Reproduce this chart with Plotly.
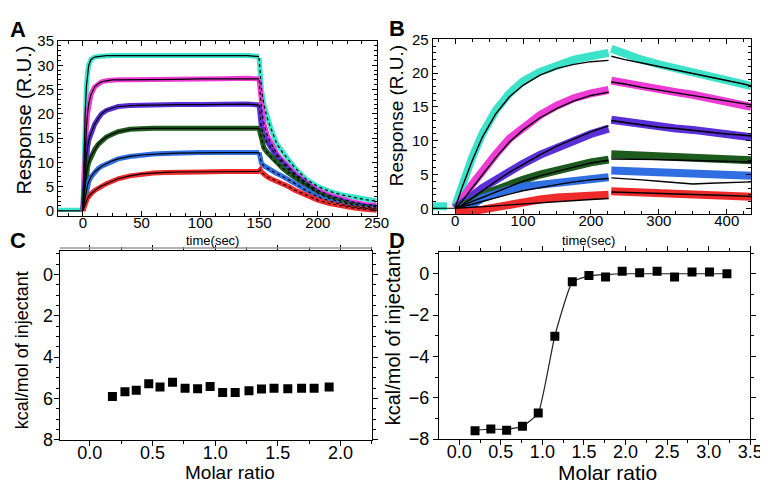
import plotly.graph_objects as go

W, H = 768, 487

# ---------------------------------------------------------------------------
# Panel A: SPR sensorgram (association 0-150 s, dissociation 150-250 s)
# ---------------------------------------------------------------------------
tA_on = [0, 1, 2, 3, 4, 5, 7, 10, 13, 16, 20, 25, 30, 40, 50, 60, 70, 80, 100, 120, 140, 150]
A_on = {
    "cyan":    [0, 12, 20, 25.5, 28.5, 30, 31.2, 31.7, 31.8, 31.9, 32, 32, 32, 32, 32.1, 32, 32, 32, 32, 32, 32, 31.8],
    "magenta": [0, 7, 12, 17, 20, 22, 24, 25.5, 26.2, 26.6, 26.8, 27, 27, 27, 27, 27.1, 27.1, 27.1, 27.2, 27.2, 27.3, 27.2],
    "purple":  [0, 4, 7.5, 11, 13, 14.5, 16, 17.8, 19, 20, 20.7, 21.2, 21.5, 21.7, 21.8, 21.8, 21.9, 21.9, 21.9, 22, 22, 21.8],
    "green":   [0, 3, 5.5, 7.5, 9, 10, 11.3, 12.6, 13.7, 14.5, 15.2, 15.8, 16.3, 16.8, 17, 17, 17, 17, 17.1, 17.1, 17.1, 17],
    "blue":    [0, 1.5, 3, 4.5, 5.3, 6, 7, 8, 8.7, 9.2, 9.7, 10.3, 10.7, 11.2, 11.5, 11.7, 11.8, 11.9, 12, 12, 12, 12],
    "red":     [0, 0.5, 1.3, 2, 2.6, 3, 3.5, 4.2, 4.7, 5.1, 5.6, 6.1, 6.6, 7.2, 7.6, 7.8, 7.9, 8, 8, 8.1, 8.1, 8.1],
}
tA_off = [150, 151, 152, 154, 157, 160, 165, 170, 175, 180, 190, 200, 210, 220, 230, 240, 250]
A_off = {
    "cyan":    [31.5, 28, 25, 22, 19, 17, 13.8, 12, 10.5, 9, 6.5, 5, 4, 3.3, 2.8, 2.3, 2.0],
    "magenta": [27, 24, 21, 18, 15.5, 14, 11.8, 10.3, 9, 7.8, 5.8, 4.2, 3.2, 2.4, 1.8, 1.3, 1.1],
    "purple":  [21.8, 19, 17, 15.5, 14, 13, 11.2, 9.8, 8.6, 7.4, 5.5, 3.8, 2.8, 2, 1.4, 1, 0.8],
    "green":   [17, 16, 14.5, 13, 12, 11.2, 9.8, 8.8, 7.8, 7, 5.2, 3.6, 2.5, 1.7, 1.1, 0.7, 0.5],
    "blue":    [12, 10.5, 9.8, 9.3, 8.8, 8.3, 7.7, 7.1, 6.4, 5.7, 4.2, 2.9, 2, 1.3, 0.8, 0.5, 0.3],
    "red":     [8.2, 8.5, 8, 7.5, 7, 6.6, 6.1, 5.5, 5, 4.3, 3.2, 2.2, 1.5, 1, 0.6, 0.3, 0.1],
}
tA_base = [-21, 0]
A_base = [0.2, 0.2]

# ---------------------------------------------------------------------------
# Panel B: SPR sensorgram (association 0-226 s, dissociation 230-436 s)
# ---------------------------------------------------------------------------
tB_on = [0, 10, 25, 40, 60, 80, 100, 125, 150, 175, 200, 226]
B_on = {
    "cyan":    [0.3, 3.5, 7.5, 11, 14.5, 17, 18.8, 20.2, 21.2, 22, 22.5, 23.0],
    "magenta": [0, 1.2, 3.5, 5.5, 8, 10.3, 12, 13.8, 15.2, 16.3, 17, 17.5],
    "purple":  [0, 0.6, 1.8, 3, 4.3, 5.5, 6.6, 7.9, 9, 10, 11, 11.8],
    "green":   [0, 0.3, 1, 2, 2.8, 3.5, 4.2, 5, 5.7, 6.3, 6.8, 7.2],
    "blue":    [0, 0.2, 0.5, 1.5, 2.2, 2.8, 3.2, 3.5, 3.8, 4.1, 4.4, 4.6],
    "red":     [-0.6, -0.6, -0.4, -0.2, 0.2, 0.6, 1, 1.3, 1.6, 1.8, 1.9, 2.0],
}
B_on_fit = {
    "cyan":    [0, 3, 7, 10.5, 14, 16.5, 18.2, 19.7, 20.7, 21.3, 21.7, 21.9],
    "magenta": [0, 1, 3, 5, 7.5, 9.8, 11.6, 13.4, 14.8, 15.9, 16.7, 17.2],
    "purple":  [0, 0.5, 1.5, 2.6, 4, 5.3, 6.5, 7.9, 9.2, 10.3, 11.3, 12.2],
    "green":   [0, 0.4, 1, 1.7, 2.5, 3.3, 4, 4.8, 5.5, 6.1, 6.7, 7.1],
    "blue":    [0, 0.2, 0.6, 1, 1.6, 2.1, 2.6, 3.1, 3.5, 3.9, 4.2, 4.4],
    "red":     [0, 0.05, 0.1, 0.2, 0.35, 0.5, 0.65, 0.85, 1.0, 1.15, 1.3, 1.45],
}
tB_off = [230, 250, 275, 300, 325, 350, 375, 400, 425, 436]
B_off = {
    "cyan":    [23.6, 22.8, 22, 21.3, 20.7, 20.2, 19.6, 19, 18.4, 18.1],
    "magenta": [18.9, 18.5, 18, 17.6, 17.2, 16.8, 16.3, 15.8, 15.3, 15.0],
    "purple":  [13.1, 12.8, 12.4, 12.1, 11.8, 11.6, 11.3, 11, 10.6, 10.5],
    "green":   [8, 7.9, 7.8, 7.7, 7.6, 7.5, 7.4, 7.3, 7.2, 7.1],
    "blue":    [5.6, 5.5, 5.4, 5.3, 5.3, 5.2, 5.1, 5.0, 4.9, 4.8],
    "red":     [2.5, 2.4, 2.3, 2.2, 2.2, 2.1, 2.0, 1.9, 1.8, 1.7],
}
B_off_fit = {
    "cyan":    [22.5, 22, 21.5, 21, 20.5, 20, 19.4, 18.9, 18.4, 18.1],
    "magenta": [18.7, 18.4, 17.9, 17.5, 17.1, 16.7, 16.3, 15.9, 15.5, 15.3],
    "purple":  [13, 12.7, 12.3, 12, 11.8, 11.5, 11.2, 11, 10.8, 10.7],
    "green":   [7.3, 7.3, 7.25, 7.2, 7.15, 7.1, 7.0, 6.95, 6.9, 6.85],
    "blue":    [4.5, 4.4, 4.2, 4.0, 3.8, 3.6, 3.7, 3.8, 3.9, 3.9],
    "red":     [2.4, 2.35, 2.3, 2.2, 2.1, 2.05, 2.0, 1.9, 1.8, 1.75],
}
tB_base = [-33, -12]
B_base = [0.3, 0.3]

# ---------------------------------------------------------------------------
# Panels C and D: ITC integrated heats
# ---------------------------------------------------------------------------
C_ratio = [0.18, 0.28, 0.37, 0.47, 0.56, 0.66, 0.76, 0.86, 0.96, 1.06,
           1.16, 1.27, 1.37, 1.47, 1.58, 1.69, 1.79, 1.91]
C_heat = [5.91, 5.68, 5.6, 5.29, 5.45, 5.22, 5.5, 5.53, 5.42, 5.71,
          5.71, 5.63, 5.54, 5.51, 5.53, 5.5, 5.5, 5.45]

D_ratio = [0.19, 0.38, 0.57, 0.76, 0.95, 1.15, 1.36, 1.56, 1.76, 1.96,
           2.17, 2.38, 2.59, 2.80, 3.01, 3.22]
D_heat = [-7.59, -7.51, -7.57, -7.37, -6.73, -3.02, -0.39, -0.09, -0.16, 0.12,
          0.05, 0.12, -0.16, 0.09, 0.09, 0.0]
D_fit_x = [0.19, 0.38, 0.57, 0.76, 0.95, 1.15, 1.36, 1.56, 1.76, 2.0, 3.22]
D_fit_y = [-7.57, -7.52, -7.52, -7.38, -6.75, -3.0, -0.4, -0.1, -0.04, 0, 0]

COLORS = {
    "cyan": "#3be3cb",
    "magenta": "#ee3bd6",
    "purple": "#5a2fd8",
    "green": "#1d5a1d",
    "blue": "#2f6fe2",
    "red": "#ef2a2a",
}
FONT = "Liberation Sans, Arial, sans-serif"

fig = go.Figure()


def line(x, y, ax, color, width, dash=None):
    fig.add_trace(go.Scatter(
        x=x, y=y, mode="lines", xaxis="x" + ax, yaxis="y" + ax,
        line=dict(color=color, width=width, dash=dash), showlegend=False,
        hoverinfo="skip",
    ))


# A: data bands then black fits on top
line(tA_base, A_base, "", COLORS["cyan"], 4)
line(tA_base, [0, 0], "", "black", 1.2)
for name in COLORS:
    line(tA_on, A_on[name], "", COLORS[name], 5)
    line(tA_off, A_off[name], "", COLORS[name], 5)
for name in COLORS:
    line(tA_on, A_on[name], "", "black", 1.2)
    line(tA_off, A_off[name], "", "black", 1.2, dash="dot")

# B
line(tB_base, B_base, "2", COLORS["cyan"], 8)
line([-33, 0], [0, 0], "2", "black", 1.2)
for name in COLORS:
    line(tB_on, B_on[name], "2", COLORS[name], 8)
    line(tB_off, B_off[name], "2", COLORS[name], 8)
for name in COLORS:
    line(tB_on, B_on_fit[name], "2", "black", 1.4)
    line(tB_off, B_off_fit[name], "2", "black", 1.4)

# C
fig.add_trace(go.Scatter(
    x=C_ratio, y=C_heat, mode="markers", xaxis="x3", yaxis="y3",
    marker=dict(symbol="square", size=9, color="black"), showlegend=False,
))

# D
fig.add_trace(go.Scatter(
    x=D_fit_x, y=D_fit_y, mode="lines", xaxis="x4", yaxis="y4",
    line=dict(color="#222222", width=1.2, shape="spline", smoothing=0.4),
    showlegend=False,
))
fig.add_trace(go.Scatter(
    x=D_ratio, y=D_heat, mode="markers", xaxis="x4", yaxis="y4",
    marker=dict(symbol="square", size=9, color="black"), showlegend=False,
))


def px_x(p):
    return p / W


def px_y(p):
    return 1 - p / H


def axis(domain, rng, dtick, minor, anchor, ticks, size, standoff=0):
    return dict(
        domain=domain, range=rng, dtick=dtick, tick0=0, anchor=anchor,
        showline=True, linecolor="black", linewidth=1.2, mirror="allticks",
        ticks=ticks, ticklen=5, tickcolor="black", tickwidth=1,
        minor=dict(dtick=minor, ticks=ticks, ticklen=3, tickcolor="black"),
        showgrid=False, zeroline=False, ticklabelstandoff=standoff,
        tickfont=dict(family=FONT, size=size, color="black"),
    )


fig.update_layout(
    width=W, height=H,
    margin=dict(l=0, r=0, t=0, b=0),
    paper_bgcolor="white", plot_bgcolor="white",
    font=dict(family=FONT, color="black"),
    xaxis=axis([px_x(51), px_x(375)], [-21, 250], 50, 12.5, "y", "inside", 15, -7),
    yaxis=axis([px_y(206.7), px_y(25)], [-1.0, 35], 5, 1, "x", "inside", 15),
    xaxis2=axis([px_x(432), px_x(756)], [-33, 436], 100, 25, "y2", "inside", 15, -7),
    yaxis2=axis([px_y(205), px_y(23.3)], [-0.85, 25], 5, 1, "x2", "inside", 15),
    xaxis3=axis([px_x(52.7), px_x(370)], [-0.24, 2.25], 0.5, 0.25, "y3", "outside", 18, -9),
    yaxis3=axis([px_y(440), px_y(243.3)], [8, -1.14], 2, 0.5, "x3", "outside", 18, -3),
    xaxis4=axis([px_x(438.3), px_x(755)], [-0.245, 3.5], 0.5, 0.25, "y4", "outside", 18, -9),
    yaxis4=axis([px_y(439.3), px_y(245)], [-8, 1.03], 2, 1, "x4", "outside", 18),
)
fig.update_layout(xaxis3=dict(tickformat=".1f"), xaxis4=dict(tickformat=".1f"))

# gray double rule along the top of panel C
fig.add_shape(type="line", xref="paper", yref="paper",
              x0=px_x(52.7), x1=px_x(370), y0=px_y(240.5), y1=px_y(240.5),
              line=dict(color="#9a9a9a", width=1.5))


def text(s, x, y, size, angle=0, bold=False):
    fig.add_annotation(
        text="<b>%s</b>" % s if bold else s, x=px_x(x), y=px_y(y),
        xref="paper", yref="paper", showarrow=False, textangle=angle,
        xanchor="center", yanchor="middle",
        font=dict(family=FONT, size=size, color="black"),
    )


text("A", 10, 13, 22, bold=True)
text("B", 396, 12, 22, bold=True)
text("C", 10, 233, 22, bold=True)
text("D", 396, 233, 22, bold=True)

text("Response (R.U.)", 16, 107, 20, angle=-90)
text("Response (R.U.)", 395, 102, 19, angle=-90)
text("time(sec)", 208, 233, 13)
text("time(sec)", 590, 233, 13)

text("kcal/mol of injectant", 15, 347, 18, angle=-90)
text("kcal/mol of injectant", 392, 333, 20, angle=-90)
text("Molar ratio", 226, 474, 19)
text("Molar ratio", 610, 474, 21)

fig.write_html("out.html")
